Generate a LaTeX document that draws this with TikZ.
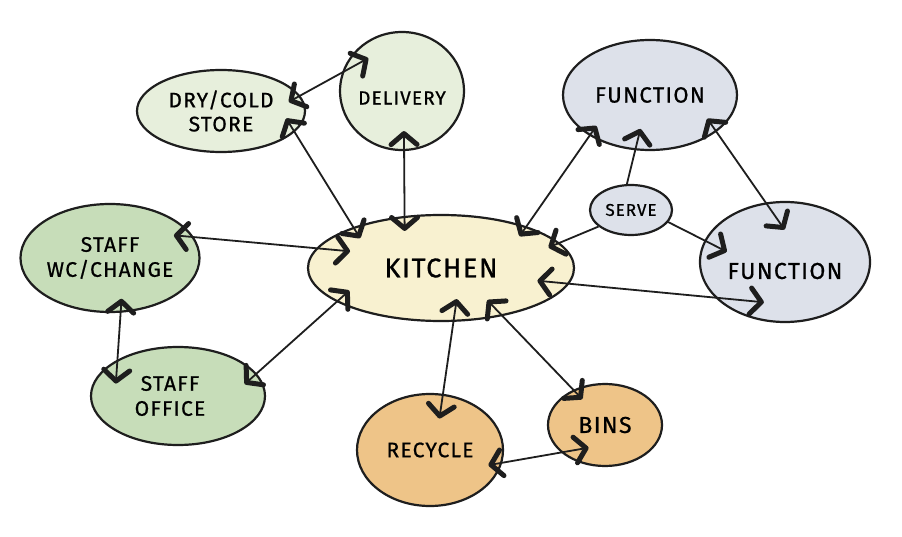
\documentclass[tikz,border=0pt]{standalone}
\usepackage{fontspec}
\setmainfont{Fira Sans}[LetterSpace=6,FakeBold=0.8]
\usetikzlibrary{shapes.geometric,arrows.meta}

\definecolor{inkline}{HTML}{1E1E1E}
\definecolor{storegreen}{HTML}{E7EFDC}
\definecolor{staffgreen}{HTML}{C7DDB9}
\definecolor{kitchencream}{HTML}{F8F1D0}
\definecolor{functionblue}{HTML}{DDE1EA}
\definecolor{wasteorange}{HTML}{EEC488}

\newcommand{\dropText}[2]{\raisebox{-#1}[\height][\depth]{#2}}

\tikzset{
  bubble/.style={ellipse, draw=inkline, line width=2.2pt, inner sep=0pt, align=center},
  link/.style={draw=inkline, line width=1.8pt, {Straight Barb[round,length=11pt,width=26pt,line width=5pt]}-{Straight Barb[round,length=11pt,width=26pt,line width=5pt]}},
  linkto/.style={draw=inkline, line width=1.8pt, -{Straight Barb[round,length=11pt,width=26pt,line width=5pt]}},
}

\begin{document}
\begin{tikzpicture}[x=1pt,y=-1pt]
\useasboundingbox[fill=white] (0,0) rectangle (902,537);
% bubbles
\node[bubble, fill=storegreen, minimum width=168pt, minimum height=82pt, font=\fontsize{21}{24}\selectfont] (store) at (221,111) {DRY/COLD\\STORE};
\node[bubble, fill=storegreen, minimum width=114pt, minimum height=118pt, font=\fontsize{19}{22}\selectfont] (delivery) at (402,91) {\dropText{7pt}{DELIVERY}};
\node[bubble, fill=functionblue, minimum width=174pt, minimum height=110pt, font=\fontsize{22}{26}\selectfont] (functop) at (650,95) {FUNCTION};
\node[bubble, fill=functionblue, minimum width=82pt, minimum height=50pt, font=\fontsize{17}{20}\selectfont] (serve) at (631,210) {SERVE};
\node[bubble, fill=functionblue, minimum width=170pt, minimum height=120pt, font=\fontsize{23}{26}\selectfont] (funcright) at (785,262) {\dropText{9pt}{FUNCTION}};
\node[bubble, fill=kitchencream, minimum width=266pt, minimum height=106pt, font=\fontsize{27}{30}\selectfont] (kitchen) at (441,268) {KITCHEN};
\node[bubble, fill=staffgreen, minimum width=176pt, minimum height=108pt, font=\fontsize{21}{25}\selectfont] (staffwc) at (110,258) {STAFF\\WC/CHANGE};
\node[bubble, fill=staffgreen, minimum width=174pt, minimum height=98pt, font=\fontsize{21}{25}\selectfont] (office) at (178,396) {\hspace*{-16pt}STAFF\\\hspace*{-16pt}OFFICE};
\node[bubble, fill=wasteorange, minimum width=146pt, minimum height=112pt, font=\fontsize{21}{24}\selectfont] (recycle) at (430,450) {RECYCLE};
\node[bubble, fill=wasteorange, minimum width=114pt, minimum height=82pt, font=\fontsize{23}{26}\selectfont] (bins) at (605,425) {BINS};
% connectors
\draw[link, shorten <=-13pt, shorten >=-30pt] (store.11) -- (delivery.163);
\draw[link, shorten <=-16pt, shorten >=-13pt] (store.-16) -- (kitchen.155);
\draw[link, shorten <=-20pt, shorten >=-15pt] (delivery.-88) -- (kitchen.125);
\draw[link, shorten <=-12pt, shorten >=-12pt] (functop.214) -- (kitchen.26);
\draw[linkto, shorten >=-22pt] (serve.99) -- (functop.-105);
\draw[link, shorten <=-16pt, shorten >=-33pt] (functop.-29) -- (funcright.108);
\draw[linkto, shorten >=-12pt] (serve.207) -- (kitchen.12);
\draw[linkto, shorten >=-25pt] (serve.-18) -- (funcright.165);
\draw[link, shorten <=-32pt, shorten >=-49pt] (kitchen.-7) -- (funcright.207);
\draw[link, shorten <=-20pt, shorten >=-34pt] (staffwc.14) -- (kitchen.171);
\draw[link, shorten <=-14pt, shorten >=-24pt] (staffwc.-79) -- (office.149);
\draw[link, shorten <=-16pt, shorten >=-17pt] (office.16) -- (kitchen.198);
\draw[link, shorten <=-23pt, shorten >=-25pt] (kitchen.-77) -- (recycle.77);
\draw[link, shorten <=-22pt, shorten >=-13pt] (kitchen.-38) -- (bins.132);
\draw[link, shorten <=-14pt, shorten >=-28pt] (recycle.-10) -- (bins.212);
\end{tikzpicture}
\end{document}
